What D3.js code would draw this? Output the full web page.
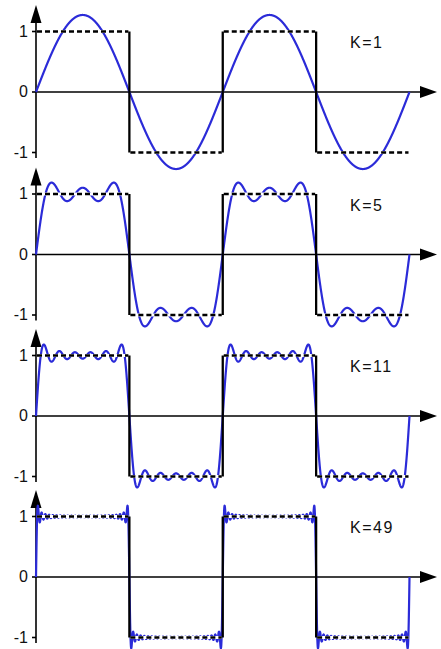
<!DOCTYPE html>
<html>
<head>
<meta charset="utf-8">
<script src="https://cdn.jsdelivr.net/npm/d3@7"></script>
<style>
  body { margin: 0; background: #fff; }
  svg { display: block; }
</style>
</head>
<body>
<script>

// highest harmonic used in each panel
var harmonics = [1, 5, 11, 49];
var panelLabels = ["K=1", "K=5", "K=11", "K=49"];

// square wave: level on each half period
var breakpoints = [0, 1, 2, 3, 4];
var levels = [1, -1, 1, -1];

var yTicks = [-1, 0, 1];
var yTickLabels = ["-1", "0", "1"];

var width = 441, height = 649;
var zeroLines = [92, 254.5, 416, 577];
var unit = 60.5;

var canvas = d3.select("body")
              .append("svg")
              .attr("width", width)
              .attr("height", height)

var x = d3.scaleLinear().domain([0, 4]).range([36, 409.5]);

// fourier partial sum of the square wave, odd terms up to K
function partialSum(k, t) {
  var s = 0;
  for (var n = 1; n <= k; n += 2) s += Math.sin(n * Math.PI * t) / n;
  return 4 / Math.PI * s;
}

var samples = d3.range(0, 4 + 1e-9, 4 / 2400);

harmonics.forEach(function (k, i) {
  var z = zeroLines[i];
  var y = d3.scaleLinear().domain([-1, 1]).range([z + unit, z - unit]);
  var g = canvas.append("g");

  // AXES
  g.append("line")
    .attr("x1", x(0)).attr("x2", x(0))
    .attr("y1", z + 66).attr("y2", z - 74)
    .attr("stroke", "#000").attr("stroke-width", 1.6)
  g.append("path")
    .attr("d", "M" + (x(0) - 5.5) + "," + (z - 69) + "L" + x(0) + "," + (z - 87) + "L" + (x(0) + 5.5) + "," + (z - 69) + "Z")
    .attr("fill", "#000")
  g.append("line")
    .attr("x1", x(0)).attr("x2", 424)
    .attr("y1", z).attr("y2", z)
    .attr("stroke", "#000").attr("stroke-width", 1.6)
  g.append("path")
    .attr("d", "M420," + (z - 6) + "L437," + z + "L420," + (z + 6) + "Z")
    .attr("fill", "#000")

  // TICKS
  g.selectAll(".tick")
    .data(yTicks)
    .enter()
    .append("line")
      .attr("x1", x(0) - 4).attr("x2", x(0))
      .attr("y1", function (d) { return y(d) }).attr("y2", function (d) { return y(d) })
      .attr("stroke", "#000").attr("stroke-width", 1.6)
  g.selectAll(".ticklabel")
    .data(yTicks)
    .enter()
    .append("text")
      .attr("x", 28)
      .attr("y", function (d) { return y(d) + 5 })
      .attr("text-anchor", "end")
      .attr("font-family", "Liberation Sans, Arial, sans-serif")
      .attr("font-size", 16)
      .attr("fill", "#111")
      .text(function (d, j) { return yTickLabels[j] })

  // FOURIER CURVE
  var line = d3.line()
    .x(function (t) { return x(t) })
    .y(function (t) { return y(partialSum(k, t)) })
  g.append("path")
    .datum(samples)
    .attr("d", line)
    .attr("fill", "none")
    .attr("stroke", "#2b2bd8")
    .attr("stroke-width", 2.2)
    .attr("stroke-linejoin", "round")

  // SQUARE WAVE: dashed levels (white under the gaps), solid jumps
  var levelLines = function (cls, stroke, w, dash) {
    g.selectAll("." + cls)
      .data(levels)
      .enter()
      .append("line")
        .attr("class", cls)
        .attr("x1", function (d, j) { return x(breakpoints[j]) + 1 })
        .attr("x2", function (d, j) { return x(breakpoints[j + 1]) - 1 })
        .attr("y1", function (d) { return y(d) })
        .attr("y2", function (d) { return y(d) })
        .attr("stroke", stroke)
        .attr("stroke-width", w)
        .attr("stroke-dasharray", dash)
  }
  levelLines("under", "#fff", 3.2, null);
  levelLines("level", "#000", 2.3, "5,3");

  g.selectAll(".jump")
    .data(breakpoints.slice(1, -1))
    .enter()
    .append("line")
      .attr("x1", function (d) { return x(d) })
      .attr("x2", function (d) { return x(d) })
      .attr("y1", function (d) { return y(levels[d - 1]) })
      .attr("y2", function (d) { return y(levels[d]) })
      .attr("stroke", "#000")
      .attr("stroke-width", 2.3)

  // LABEL
  g.append("text")
    .attr("x", 350)
    .attr("y", z - 44)
    .attr("font-family", "Liberation Sans, Arial, sans-serif")
    .attr("font-size", 16)
    .attr("letter-spacing", 1.5)
    .attr("fill", "#111")
    .text(panelLabels[i])
});

</script>
</body>
</html>
